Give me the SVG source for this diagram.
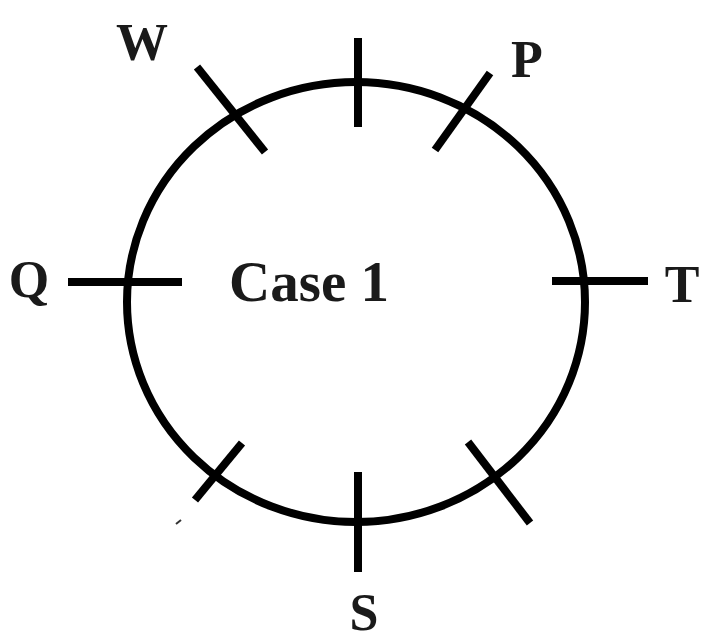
<svg xmlns="http://www.w3.org/2000/svg" width="702" height="642" viewBox="0 0 702 642">
<style>
.ln{stroke:#000;stroke-width:8;fill:none;stroke-linecap:butt}
.lbl{font-family:"Liberation Serif","DejaVu Serif",serif;font-weight:bold;font-size:52px;fill:#1a1a1a;text-anchor:middle}
.big{font-size:57px}
</style>
<rect width="702" height="642" fill="#fff"/>
<g id="circle">
<ellipse class="ln" cx="356" cy="302" rx="229" ry="220"/>
</g>
<g id="connectors">
<line class="ln" x1="358" y1="38" x2="358" y2="127"/>
<line class="ln" x1="197" y1="67" x2="265" y2="152"/>
<line class="ln" x1="490" y1="73" x2="435" y2="150"/>
<line class="ln" x1="68" y1="282" x2="182" y2="282"/>
<line class="ln" x1="552" y1="281" x2="648" y2="281"/>
<line class="ln" x1="242" y1="443" x2="195" y2="500"/>
<line class="ln" x1="468" y1="442" x2="530" y2="523"/>
<line class="ln" x1="358" y1="472" x2="358" y2="572"/>
<line x1="176" y1="524" x2="181" y2="520" stroke="#333" stroke-width="2"/>
</g>
<g id="node-W"><text class="lbl" x="142" y="60">W</text></g>
<g id="node-P"><text class="lbl" x="527" y="77">P</text></g>
<g id="node-Q"><text class="lbl" x="29" y="297">Q</text></g>
<g id="node-T"><text class="lbl" x="682" y="302">T</text></g>
<g id="node-S"><text class="lbl" x="364" y="630">S</text></g>
<g id="node-case"><text class="lbl big" x="309" y="301">Case 1</text></g>
</svg>
